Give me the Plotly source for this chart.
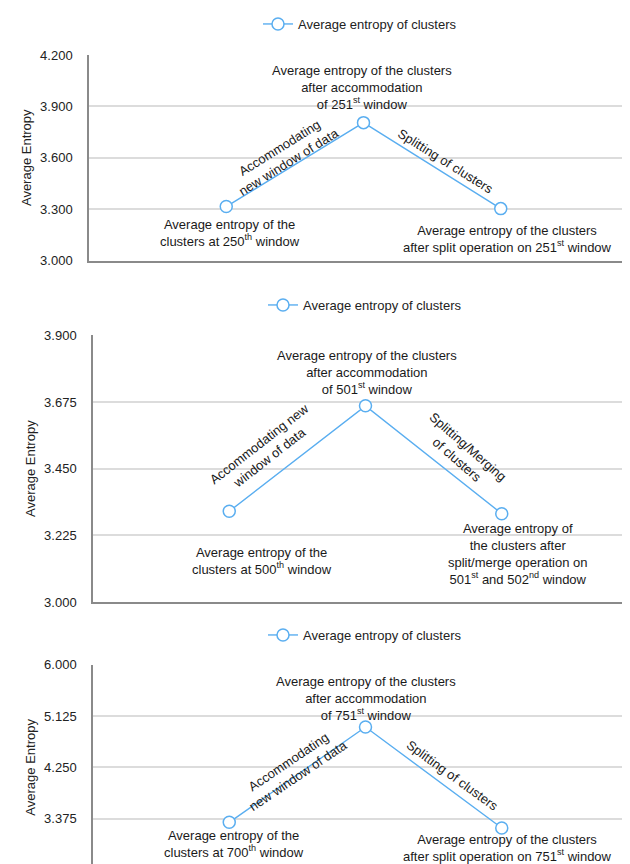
import plotly.graph_objects as go

W, H = 630, 864

# ---------------- data ----------------
steps = [1, 2, 3]
entropy_250 = [3.315, 3.805, 3.303]
entropy_500 = [3.306, 3.662, 3.298]
entropy_750 = [3.313, 4.938, 3.216]
series_name = "Average entropy of clusters"

y_ranges = [[3.0, 4.2], [3.0, 3.9], [2.5, 6.0]]
y_ticks = [
    [3.0, 3.3, 3.6, 3.9, 4.2],
    [3.0, 3.225, 3.45, 3.675, 3.9],
    [2.5, 3.375, 4.25, 5.125, 6.0],
]

BLUE = "#5aaef0"
FONT = "Liberation Sans, Arial, Helvetica, sans-serif"
FS = 13


def px(x):
    return x / W


def py(y):
    return 1 - y / H


# panel pixel boxes: (left, top, bottom)
boxes = [(81, 47, 252.5), (85, 327.3, 594), (85, 656.7, 862)]
legend_pos = [(250, 16), (255, 297), (255, 627)]

fig = go.Figure()
all_series = [entropy_250, entropy_500, entropy_750]
for i, ys in enumerate(all_series):
    suf = "" if i == 0 else str(i + 1)
    fig.add_trace(go.Scatter(
        x=steps, y=ys, mode="lines+markers", name=series_name,
        line=dict(color=BLUE, width=1.4),
        marker=dict(size=12, color="white", line=dict(color=BLUE, width=1.5)),
        xaxis="x" + suf, yaxis="y" + suf,
        legend="legend" + suf, showlegend=True,
    ))
    left, top, bottom = boxes[i]
    fig.layout["xaxis" + suf] = dict(
        domain=[px(left), 1], range=[0, 4], anchor="y" + suf,
        showgrid=False, zeroline=False, showticklabels=False, ticks="",
        showline=True, linecolor="#8a8a8a", linewidth=1.5,
    )
    fig.layout["yaxis" + suf] = dict(
        domain=[py(bottom), py(top)], range=y_ranges[i], anchor="x" + suf,
        tickvals=y_ticks[i], tickformat=".3f",
        showgrid=True, gridcolor="#dcdcdc", gridwidth=1.5, zeroline=False,
        showline=True, linecolor="#8a8a8a", linewidth=1.5,
        ticks="", ticklabelstandoff=12, ticklabeloverflow="allow",
        tickfont=dict(family=FONT, size=FS, color="#222"),
        title=dict(text="Average Entropy", font=dict(family=FONT, size=FS, color="#222"),
                   standoff=6),
        automargin=False,
    )
    lx, ly = legend_pos[i]
    fig.layout["legend" + suf] = dict(
        x=px(lx), y=py(ly), xanchor="left", yanchor="middle",
        orientation="h", font=dict(family=FONT, size=FS, color="#222"),
        bgcolor="rgba(0,0,0,0)", itemwidth=30,
    )

notes = [
    # panel 1
    ("Average entropy of the clusters<br>after accommodation<br>of 251<sup>st</sup> window", 354, 80, 0),
    ("Average entropy of the<br>clusters at 250<sup>th</sup> window", 222, 225, 0),
    ("Average entropy of the clusters<br>after split operation on 251<sup>st</sup> window", 499, 230.5, 0),
    ("Accommodating<br>new window of data", 276, 147, -32),
    ("Splitting of clusters", 438, 153, 32),
    # panel 2
    ("Average entropy of the clusters<br>after accommodation<br>of 501<sup>st</sup> window", 359, 364.7, 0),
    ("Average entropy of the<br>clusters at 500<sup>th</sup> window", 254, 553, 0),
    ("Average entropy of<br>the clusters after<br>split/merge operation on<br>501<sup>st</sup> and 502<sup>nd</sup> window", 509, 546, 0),
    ("Accommodating new<br>window of data", 256, 443, -38),
    ("Splitting/Merging<br>of clusters", 454, 445, 41),
    # panel 3
    ("Average entropy of the clusters<br>after accommodation<br>of 751<sup>st</sup> window", 358, 690.5, 0),
    ("Average entropy of the<br>clusters at 700<sup>th</sup> window", 226, 835.5, 0),
    ("Average entropy of the clusters<br>after split operation on 751<sup>st</sup> window", 499, 840, 0),
    ("Accommodating<br>new window of data", 285, 760.7, -34),
    ("Splitting of clusters", 444.5, 767, 36),
]
for text, x, y, ang in notes:
    fig.add_annotation(
        text=text, x=px(x), y=py(y), xref="paper", yref="paper",
        xanchor="center", yanchor="middle", showarrow=False, textangle=ang,
        font=dict(family=FONT, size=FS, color="#1a1a1a"), align="center",
    )

fig.update_layout(
    width=W, height=H,
    margin=dict(l=0, r=0, t=0, b=0),
    paper_bgcolor="white", plot_bgcolor="white",
    font=dict(family=FONT, size=FS, color="#222"),
)

fig.write_html("out.html")
